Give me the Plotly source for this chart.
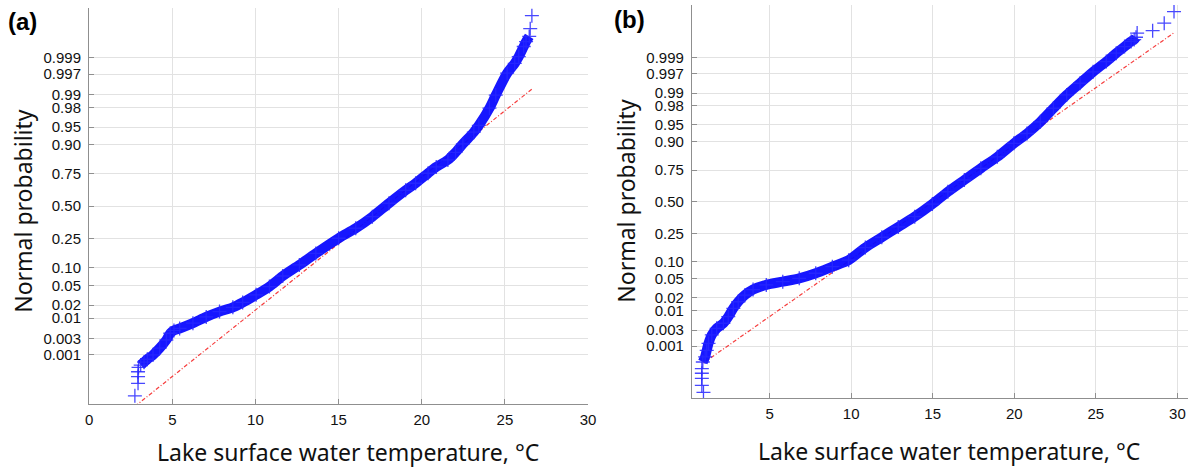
from statistics import NormalDist
import plotly.graph_objects as go

# probability ticks of the normal probability axis
prob_ticks = [0.001, 0.003, 0.01, 0.02, 0.05, 0.10, 0.25, 0.50,
              0.75, 0.90, 0.95, 0.98, 0.99, 0.997, 0.999]
prob_labels = ["0.001", "0.003", "0.01", "0.02", "0.05", "0.10", "0.25", "0.50",
               "0.75", "0.90", "0.95", "0.98", "0.99", "0.997", "0.999"]

# panel (a): temperature (degC) vs normal quantile of the plotting position
temp_a = [2.75, 2.94, 2.94, 2.94, 2.97, 3.1, 3.3, 3.5, 3.84, 4.24,
          4.64, 4.88, 5.1, 5.44, 6.24, 7.04, 7.84, 8.64, 9.23, 10.04,
          10.84, 11.64, 12.64, 13.63, 15.0, 16.03, 17.03, 18.03, 19.03, 19.63,
          20.38, 20.87, 21.57, 22.03, 22.47, 23.13, 23.43, 24.07, 24.45, 25.13,
          25.59, 25.83, 26.13, 26.27, 26.46, 26.52, 26.62]
q_a = [-3.94, -3.68, -3.54, -3.44, -3.35, -3.30, -3.24, -3.18, -3.09, -2.95,
       -2.78, -2.64, -2.58, -2.54, -2.43, -2.30, -2.19, -2.10, -2.00, -1.84,
       -1.67, -1.45, -1.22, -0.98, -0.665, -0.457, -0.216, 0.062, 0.33, 0.478,
       0.686, 0.817, 0.963, 1.12, 1.295, 1.54, 1.68, 2.04, 2.31, 2.765,
       2.97, 3.11, 3.32, 3.42, 3.53, 3.69, 3.96]
fit_temp_a = [2.75, 26.68]
fit_q_a = [-4.16, 2.45]

# panel (b)
temp_b = [0.95, 0.85, 0.85, 0.85, 0.85, 0.91, 1.05, 1.15, 1.26, 1.46,
          1.76, 2.17, 2.47, 2.78, 3.08, 3.48, 3.99, 4.80, 5.81, 6.82,
          7.83, 8.85, 9.85, 10.87, 11.88, 12.89, 13.90, 14.98, 15.93, 16.94,
          17.95, 18.96, 19.98, 20.78, 21.6, 22.4, 23.21, 24.03, 24.83, 25.64,
          26.25, 26.76, 27.16, 27.35, 27.46, 27.53, 28.48, 29.19, 29.79]
q_b = [-4.08, -3.93, -3.78, -3.67, -3.57, -3.43, -3.32, -3.18, -3.03, -2.85,
       -2.71, -2.60, -2.46, -2.28, -2.14, -2.00, -1.88, -1.78, -1.71, -1.64,
       -1.53, -1.39, -1.25, -0.98, -0.76, -0.54, -0.32, -0.05, 0.214, 0.465,
       0.715, 0.96, 1.25, 1.46, 1.71, 2.0, 2.285, 2.535, 2.78, 3.0,
       3.18, 3.32, 3.43, 3.47, 3.52, 3.61, 3.66, 3.82, 4.07]
fit_temp_b = [0.95, 29.85]
fit_q_b = [-3.45, 3.63]

tick_pos = [NormalDist().inv_cdf(p) for p in prob_ticks]

W, H = 1200, 469


def px(x):
    return x / W


def py(y):
    return 1 - y / H


BLUE = "rgb(10,10,255)"
RED = "rgba(245,40,40,0.9)"

fig = go.Figure()

panels = [
    (temp_a, q_a, fit_temp_a, fit_q_a, slice(5, 45), "x", "y"),
    (temp_b, q_b, fit_temp_b, fit_q_b, slice(5, 45), "x2", "y2"),
]
for t, q, ft, fq, dense, xa, ya in panels:
    # reference line (dash-dot red)
    fig.add_trace(go.Scatter(x=ft, y=fq, mode="lines", xaxis=xa, yaxis=ya,
                             line=dict(color=RED, width=1.2, dash="4px,2px,1px,2px"),
                             showlegend=False))
    # dense part of the sample, drawn as a thick band
    fig.add_trace(go.Scatter(x=t[dense], y=q[dense], mode="lines", xaxis=xa, yaxis=ya,
                             line=dict(color=BLUE, width=10, shape="spline", smoothing=0.8),
                             opacity=0.95, showlegend=False))
    # individual "+" markers
    fig.add_trace(go.Scatter(x=t, y=q, mode="markers", xaxis=xa, yaxis=ya,
                             marker=dict(symbol="cross-thin", size=10,
                                         line=dict(color="rgba(40,40,255,0.85)", width=1.3)),
                             showlegend=False))

axis_common = dict(showline=True, linecolor="#8f8f8f", linewidth=1.3,
                   ticks="inside", ticklen=5, tickwidth=1, tickcolor="#8f8f8f",
                   showgrid=True, gridcolor="#e2e2e2", gridwidth=1, zeroline=False,
                   tickfont=dict(family="Liberation Sans, Arial", size=15, color="#111"))

fig.update_layout(
    width=W, height=H,
    margin=dict(l=0, r=0, t=0, b=0),
    paper_bgcolor="white", plot_bgcolor="white",
    xaxis=dict(domain=[px(86), px(590)], range=[0, 30], ticklabelstandoff=2,
               tickvals=[0, 5, 10, 15, 20, 25, 30], anchor="y", **axis_common),
    yaxis=dict(domain=[py(404), py(8)], range=[-4.11, 4.12], ticklabelstandoff=4,
               tickvals=tick_pos, ticktext=prob_labels, anchor="x", **axis_common),
    xaxis2=dict(domain=[px(695), px(1196)], range=[0.25, 30.65], ticklabelstandoff=2,
                tickvals=[5, 10, 15, 20, 25, 30], anchor="y2", **axis_common),
    yaxis2=dict(domain=[py(398), py(5)], range=[-4.20, 4.21], ticklabelstandoff=4,
                tickvals=tick_pos, ticktext=prob_labels, anchor="x2", **axis_common),
)

title_font = dict(family="Noto Sans, Open Sans", size=23, color="#111")
xlabel = "Lake surface water temperature, °C"
ylabel = "Normal probability"
for x, y in [(347, 452), (955, 451)]:
    fig.add_annotation(text=xlabel, x=px(x), y=py(y), xref="paper", yref="paper",
                       showarrow=False, font=title_font, xanchor="center", yanchor="middle")
for x, y in [(19, 211), (628, 201)]:
    fig.add_annotation(text=ylabel, x=px(x), y=py(y), xref="paper", yref="paper",
                       showarrow=False, font=title_font, textangle=-90,
                       xanchor="center", yanchor="middle")

panel_font = dict(family="Liberation Sans, Arial", size=24, color="#000")
fig.add_annotation(text="<b>(a)</b>", x=px(19), y=py(21), xref="paper", yref="paper",
                   showarrow=False, font=panel_font, xanchor="center", yanchor="middle")
fig.add_annotation(text="<b>(b)</b>", x=px(632), y=py(19), xref="paper", yref="paper",
                   showarrow=False, font=panel_font, xanchor="center", yanchor="middle")

# the page body has a default 8px margin; remove it so the figure fills the window
fig.write_html("out.html", config={"displayModeBar": False},
               post_script="document.body.style.margin='0';")
